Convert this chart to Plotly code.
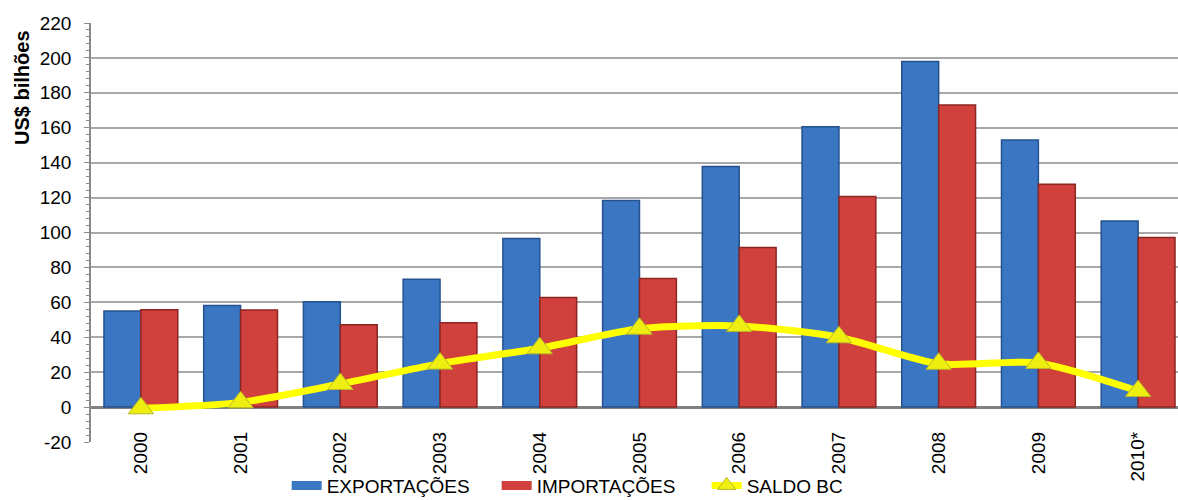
import plotly.graph_objects as go

# Balança comercial (US$ bilhões)
anos = ["2000", "2001", "2002", "2003", "2004", "2005", "2006", "2007", "2008", "2009", "2010*"]
exportacoes = [55.1, 58.2, 60.4, 73.2, 96.5, 118.3, 137.8, 160.6, 197.9, 153.0, 106.6]
importacoes = [55.8, 55.6, 47.2, 48.3, 62.8, 73.6, 91.4, 120.6, 173.1, 127.7, 97.1]
saldo_bc = [-0.7, 2.7, 13.2, 24.9, 33.7, 44.9, 46.5, 40.0, 24.8, 25.3, 9.2]

# eixo vertical: valores e rótulos (hífen simples no negativo)
y_ticks = [-20, 0, 20, 40, 60, 80, 100, 120, 140, 160, 180, 200, 220]
y_rotulos = ["-20", "0", "20", "40", "60", "80", "100", "120", "140", "160", "180", "200", "220"]

FONT = "Liberation Sans"
AZUL, AZUL_BORDA = "#3b76c2", "#23528f"
VERMELHO, VERMELHO_BORDA = "#d0403c", "#8c2623"

fig = go.Figure()

fig.add_trace(go.Bar(
    x=anos, y=exportacoes, name="EXPORTAÇÕES", showlegend=False, legendgroup="exp",
    marker=dict(color=AZUL, line=dict(color=AZUL_BORDA, width=1.5)),
))
fig.add_trace(go.Bar(
    x=anos, y=importacoes, name="IMPORTAÇÕES", showlegend=False, legendgroup="imp",
    marker=dict(color=VERMELHO, line=dict(color=VERMELHO_BORDA, width=1.5)),
))
fig.add_trace(go.Scatter(
    x=anos, y=saldo_bc, name="SALDO BC", mode="lines+markers", legendrank=3,
    line=dict(color="#ffff00", width=7, shape="spline", smoothing=0.7),
    marker=dict(symbol="triangle-up", size=22, color="#eeee10",
                line=dict(color="#b8b82a", width=1)),
))

# wide bar-like swatches for the legend entries of the two bar series
for nome, cor, grupo, rank in [("EXPORTAÇÕES", AZUL, "exp", 1), ("IMPORTAÇÕES", VERMELHO, "imp", 2)]:
    fig.add_trace(go.Scatter(
        x=[None], y=[None], name=nome, mode="lines", legendgroup=grupo, legendrank=rank,
        line=dict(color=cor, width=9),
    ))

fig.update_layout(
    width=1178, height=500,
    margin=dict(l=91, r=0, t=23, b=58, autoexpand=False),
    paper_bgcolor="white", plot_bgcolor="white",
    font=dict(family=FONT, size=19, color="black"),
    barmode="group", bargap=0.26, bargroupgap=0,
    showlegend=True,
    legend=dict(orientation="h", x=0.18, xanchor="left", y=-0.104, yanchor="middle",
                font=dict(family=FONT, size=19, color="black"),
                itemwidth=30, entrywidth=165, entrywidthmode="pixels",
                tracegroupgap=0, bgcolor="rgba(0,0,0,0)"),
    annotations=[dict(
        text="<b>US$ bilhões</b>", textangle=-90,
        xref="paper", yref="paper", x=0, y=0.845, xshift=-69,
        xanchor="center", yanchor="middle", showarrow=False,
        font=dict(family=FONT, size=20, color="black"),
    )],
)

fig.update_yaxes(
    range=[-20, 220], tickmode="array", tickvals=y_ticks, ticktext=y_rotulos,
    showgrid=True, gridcolor="#a8a8a8", gridwidth=1.5,
    zeroline=True, zerolinecolor="#808080", zerolinewidth=2.5,
    showline=True, linecolor="#8a8a8a", linewidth=1.5,
    ticks="outside", ticklen=5, tickcolor="#8a8a8a", ticklabelstandoff=9,
    minor=dict(tickmode="linear", tick0=0, dtick=4, ticks="outside", ticklen=3,
               tickcolor="#8a8a8a", showgrid=False),
    tickfont=dict(family=FONT, size=19, color="black"),
)

fig.update_xaxes(
    type="category", range=[-0.5, 10.4],
    anchor="free", position=20 / 240,
    showgrid=False, showline=False, ticks="",
    tickangle=-90, ticklabelstandoff=20,
    tickfont=dict(family=FONT, size=19, color="black"),
)

fig.write_html("out.html")
